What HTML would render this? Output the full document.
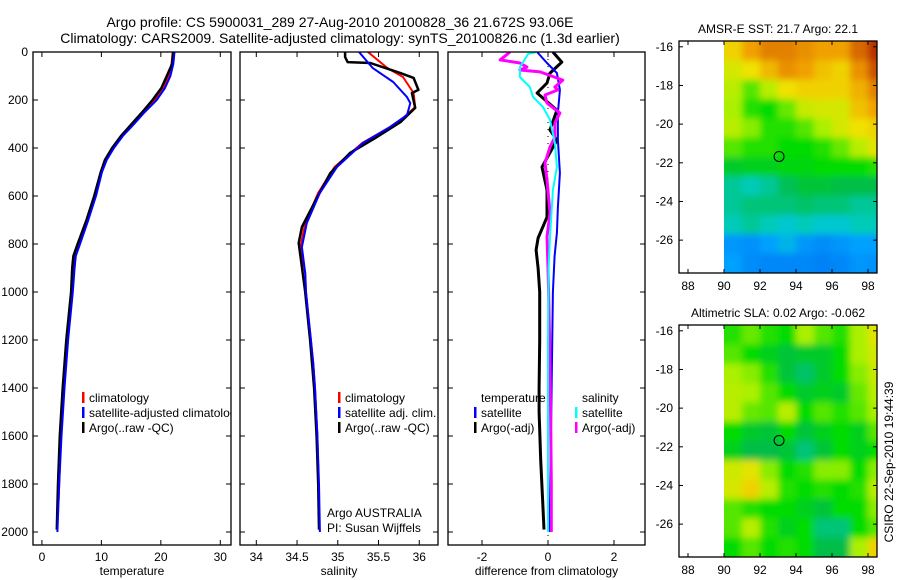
<!DOCTYPE html>
<html><head><meta charset="utf-8"><style>
body{margin:0;background:#fff;}
svg{display:block;font-family:"Liberation Sans",sans-serif;}
</style></head><body>
<svg id="s" width="900" height="580" viewBox="0 0 900 580">
<defs><filter id="blur" x="-10%" y="-10%" width="120%" height="120%"><feGaussianBlur stdDeviation="3.5"/></filter></defs>
<text x="340" y="27" font-size="14" text-anchor="middle">Argo profile: CS 5900031_289 27-Aug-2010 20100828_36 21.672S 93.06E</text>
<text x="340" y="43" font-size="14" text-anchor="middle">Climatology: CARS2009. Satellite-adjusted climatology: synTS_20100826.nc (1.3d earlier)</text>
<text transform="translate(893,462) rotate(-90)" font-size="12" text-anchor="middle">CSIRO 22-Sep-2010 19:44:39</text>
</svg>
<script>
// ---------- data ----------
const depthTicks=[0,200,400,600,800,1000,1200,1400,1600,1800,2000];
const tempTicks=[0,10,20,30];
const salTicks=[34,34.5,35,35.5,36];
const diffTicks=[-2,0,2];
const tClimD=[0,50,100,150,200,250,300,350,400,450,500,600,700,800,850,900,1000,1200,1400,1600,1870];
const tClimV=[22.0,21.8,21.3,20.5,19.0,17.1,15.3,13.5,12.0,10.8,10.0,9.0,7.7,6.3,5.6,5.4,5.1,4.3,3.7,3.2,2.8];
const tSatD=[0,50,100,150,200,250,300,350,400,450,500,600,700,800,850,900,1000,1200,1400,1600,1800,2000];
const tSatV=[22.3,22.1,21.6,20.7,19.3,17.3,15.5,13.6,12.1,10.9,10.1,9.1,7.8,6.4,5.7,5.5,5.2,4.4,3.8,3.3,2.9,2.6];
const tArgoD=[0,50,100,150,200,250,300,350,400,450,500,600,700,800,850,900,1000,1200,1400,1600,1800,1990];
const tArgoV=[22.1,21.9,21.0,20.1,18.6,16.9,15.1,13.3,11.8,10.6,9.9,8.8,7.5,6.0,5.3,5.1,4.9,4.1,3.5,3.0,2.7,2.5];
const sClimD=[0,67,104,171,229,275,313,379,479,587,713,813,921,1000,1100,1200,1300,1400,1600,1870];
const sClimV=[35.37,35.61,35.80,35.93,35.95,35.80,35.64,35.30,34.96,34.76,34.60,34.54,34.60,34.61,34.64,34.67,34.70,34.72,34.75,34.77];
const sSatD=[0,67,125,188,213,263,313,379,479,587,713,813,921,1000,1100,1200,1300,1400,1600,1800,2000];
const sSatV=[35.26,35.43,35.68,35.85,35.89,35.85,35.64,35.31,34.99,34.78,34.62,34.56,34.60,34.61,34.64,34.67,34.70,34.72,34.75,34.77,34.78];
const sArgoD=[0,21,42,46,88,108,158,171,233,292,354,421,504,604,729,796,896,1000,1200,1400,1600,1800,1990];
const sArgoV=[35.09,35.09,35.12,35.40,35.77,35.93,35.99,35.91,35.95,35.77,35.48,35.15,34.91,34.75,34.56,34.52,34.56,34.60,34.66,34.71,34.74,34.76,34.77];
const dTSatD=[0,46,88,158,254,367,504,646,754,850,1000,1500,2000];
const dTSatV=[-0.33,-0.03,0.27,0.36,0.30,0.30,0.36,0.30,0.27,0.2,0.15,0.1,0.05];
const dTArgoD=[0,42,88,129,171,242,325,367,479,575,688,775,825,900,1000,1200,1400,1500,1700,1900,1990];
const dTArgoV=[0.15,0.42,0.06,-0.03,-0.33,0.27,0.06,0.27,-0.18,-0.03,-0.03,-0.30,-0.36,-0.3,-0.25,-0.25,-0.27,-0.27,-0.22,-0.15,-0.12];
const dSArgoD=[0,33,46,63,75,83,117,146,158,179,213,254,296,354,396,463,533,671,771,900,1000,1200,1500,1800,2000];
const dSArgoV=[-1.15,-1.45,-0.85,-0.64,-0.85,-0.24,0.45,0.21,0.30,-0.09,-0.03,0.36,0.21,0.21,0.06,-0.09,-0.03,0.06,-0.03,0.0,0.02,0.05,0.08,0.10,0.10];
const dSSatD=[0,8,63,104,146,188,229,283,379,479,575,771,900,1200,1600,2000];
const dSSatV=[-0.33,-0.6,-0.85,-0.85,-0.55,-0.45,-0.15,0.06,0.21,0.27,0.15,0.06,0.02,0.0,0.0,0.0];
const lonTicks=[88,90,92,94,96,98];
const latTicks=[-16,-18,-20,-22,-24,-26];
const gridLons=[90,91,92,93,94,95,96,97,98];
const gridLats=[-15.7,-16.7,-17.7,-18.7,-19.7,-20.7,-21.7,-22.7,-23.7,-24.7,-25.7,-26.7];
const sstGrid=[
[0.72,0.78,0.82,0.82,0.80,0.78,0.78,0.85,0.92],
[0.66,0.70,0.75,0.80,0.78,0.74,0.72,0.80,0.88],
[0.62,0.55,0.62,0.70,0.72,0.72,0.72,0.76,0.82],
[0.60,0.52,0.50,0.56,0.64,0.66,0.66,0.74,0.78],
[0.62,0.58,0.52,0.52,0.55,0.60,0.66,0.70,0.72],
[0.55,0.52,0.52,0.50,0.50,0.52,0.56,0.62,0.68],
[0.47,0.48,0.48,0.49,0.49,0.50,0.50,0.50,0.52],
[0.40,0.38,0.40,0.44,0.46,0.46,0.45,0.45,0.45],
[0.40,0.42,0.42,0.42,0.43,0.42,0.42,0.40,0.40],
[0.38,0.40,0.38,0.36,0.38,0.36,0.36,0.38,0.38],
[0.28,0.27,0.30,0.33,0.28,0.26,0.28,0.30,0.30],
[0.30,0.26,0.25,0.25,0.25,0.24,0.25,0.28,0.27]];
const slaGrid=[
[0.52,0.56,0.52,0.50,0.60,0.55,0.52,0.60,0.68],
[0.55,0.50,0.48,0.46,0.47,0.47,0.50,0.60,0.66],
[0.60,0.58,0.52,0.46,0.43,0.47,0.50,0.58,0.64],
[0.62,0.60,0.55,0.50,0.47,0.48,0.47,0.56,0.62],
[0.62,0.56,0.55,0.62,0.50,0.55,0.52,0.55,0.60],
[0.50,0.47,0.46,0.50,0.46,0.48,0.50,0.48,0.55],
[0.48,0.45,0.45,0.46,0.42,0.46,0.50,0.48,0.50],
[0.65,0.68,0.58,0.50,0.52,0.58,0.58,0.50,0.58],
[0.66,0.72,0.62,0.52,0.50,0.52,0.50,0.52,0.62],
[0.55,0.52,0.50,0.50,0.48,0.46,0.50,0.50,0.58],
[0.55,0.62,0.52,0.48,0.50,0.42,0.42,0.50,0.55],
[0.50,0.55,0.50,0.52,0.50,0.45,0.45,0.60,0.72]];
const argoLon=93.06, argoLat=-21.672;

// ---------- drawing ----------
const NS="http://www.w3.org/2000/svg";
const svg=document.getElementById('s');
function mk(tag,attrs,parent){const e=document.createElementNS(NS,tag);for(const k in attrs)e.setAttribute(k,attrs[k]);(parent||svg).appendChild(e);return e;}
const PT=52,PB=545;
const yDepth=d=>PT+d*0.24;
const panels=[
 {x0:33,x1:231,min:-1.5,max:31.8,ticks:tempTicks,label:'temperature',name:'temperature-panel'},
 {x0:240,x1:438,min:33.8,max:36.23,ticks:salTicks,label:'salinity',name:'salinity-panel'},
 {x0:448,x1:645,min:-3.03,max:2.94,ticks:diffTicks,label:'difference from climatology',name:'difference-panel'}];
panels.forEach((p,i)=>{
 p.sx=v=>p.x0+(v-p.min)/(p.max-p.min)*(p.x1-p.x0);
 const g=mk('g',{});
 
 
 p.g=g;
 const cp=mk('clipPath',{id:'cp'+i},g);mk('rect',{x:p.x0,y:PT,width:p.x1-p.x0,height:PB-PT},cp);
 p.plot=mk('g',{'clip-path':'url(#cp'+i+')'},g);
 p.ticks.forEach(t=>{const x=p.sx(t);
  mk('line',{x1:x,x2:x,y1:PT,y2:PT+5,stroke:'#000'},g);mk('line',{x1:x,x2:x,y1:PB,y2:PB-5,stroke:'#000'},g);
  const tx=mk('text',{x:x,y:PB+16,'font-size':12,'text-anchor':'middle'},g);tx.textContent=t;
  
  });
 depthTicks.forEach(d=>{const y=yDepth(d);
  mk('line',{x1:p.x0,x2:p.x0+5,y1:y,y2:y,stroke:'#000'},g);mk('line',{x1:p.x1,x2:p.x1-5,y1:y,y2:y,stroke:'#000'},g);
  if(i===0){const tx=mk('text',{x:28,y:y+4,'font-size':12,'text-anchor':'end'},g);tx.textContent=d;
   
   }});
 const xl=mk('text',{x:(p.x0+p.x1)/2,y:575,'font-size':12,'text-anchor':'middle'},g);xl.textContent=p.label;
 
 
});
function line(p,D,V,color,w,name){
 const pts=D.map((d,k)=>p.sx(V[k]).toFixed(1)+','+yDepth(d).toFixed(1)).join(' ');
 const pl=mk('polyline',{points:pts,fill:'none',stroke:color,'stroke-width':w,'stroke-linejoin':'round'},p.plot);
 
 
}
const [P1,P2,P3]=panels;
line(P1,tClimD,tClimV,'#f00',2,'temp-climatology-line');
line(P1,tArgoD,tArgoV,'#000',2.5,'temp-argo-line');
line(P1,tSatD,tSatV,'#00f',2,'temp-satellite-line');
line(P2,sClimD,sClimV,'#f00',2,'sal-climatology-line');
line(P2,sArgoD,sArgoV,'#000',2.5,'sal-argo-line');
line(P2,sSatD,sSatV,'#00f',2,'sal-satellite-line');
mk('line',{x1:P3.sx(0),x2:P3.sx(0),y1:PT,y2:PB,stroke:'#000','stroke-width':1,'stroke-dasharray':'1 6'},P3.plot);
line(P3,dTArgoD,dTArgoV,'#000',3,'diff-temp-argo-line');
line(P3,dTSatD,dTSatV,'#00f',2,'diff-temp-satellite-line');
line(P3,dSArgoD,dSArgoV,'#f0f',3,'diff-sal-argo-line');
line(P3,dSSatD,dSSatV,'#0ff',2,'diff-sal-satellite-line');
panels.forEach(p=>mk('rect',{x:p.x0,y:PT,width:p.x1-p.x0,height:PB-PT,fill:'none',stroke:'#000','stroke-width':1.3},p.g));
// legends
function leg(p,x,y,color,label,name){
 const g=mk('g',{},p.plot);
 
 
 if(color)mk('rect',{x:x,y:y-10,width:2.5,height:11,fill:color},g);
 const t=mk('text',{x:x+7,y:y,'font-size':12},g);t.textContent=label;
}
leg(P1,82,402,'#f00','climatology','legend-climatology');
leg(P1,82,417,'#00f','satellite-adjusted climatology','legend-satellite');
leg(P1,82,432,'#000','Argo(..raw -QC)','legend-argo');
leg(P2,338,402,'#f00','climatology','legend-climatology');
leg(P2,338,417,'#00f','satellite adj. clim.','legend-satellite');
leg(P2,338,432,'#000','Argo(..raw -QC)','legend-argo');
leg(P2,320,517,null,'Argo AUSTRALIA','legend-institution');
leg(P2,320,532,null,'PI: Susan Wijffels','legend-pi');
leg(P3,474,402,null,'temperature','legend-temperature-head');
leg(P3,474,417,'#00f','satellite','legend-temp-satellite');
leg(P3,474,432,'#000','Argo(-adj)','legend-temp-argo');
leg(P3,575,402,null,'salinity','legend-salinity-head');
leg(P3,575,417,'#0ff','satellite','legend-sal-satellite');
leg(P3,575,432,'#f0f','Argo(-adj)','legend-sal-argo');

// maps
const cmapStops=[[0.2,[0,110,240]],[0.3,[0,160,255]],[0.37,[0,205,200]],[0.45,[0,190,70]],[0.5,[0,220,0]],[0.6,[170,240,0]],[0.7,[240,225,0]],[0.78,[240,160,0]],[0.85,[215,105,0]],[0.95,[170,20,0]]];
function cmap(v){
 if(v<=cmapStops[0][0])return 'rgb('+cmapStops[0][1]+')';
 for(let k=1;k<cmapStops.length;k++){if(v<=cmapStops[k][0]){const a=cmapStops[k-1],b=cmapStops[k],f=(v-a[0])/(b[0]-a[0]);
  return 'rgb('+a[1].map((c,j)=>Math.round(c+(b[1][j]-c)*f)).join(',')+')';}}
 return 'rgb('+cmapStops[cmapStops.length-1][1]+')';
}
let mapId=0;
function drawMap(top,grid,title,name){
 const x0=679,x1=877,y0=top,y1=top+232,lonMin=87.5,lonMax=98.5,latMax=-15.7,latMin=-27.7;
 const sx=l=>x0+(l-lonMin)/(lonMax-lonMin)*(x1-x0);
 const sy=l=>y0+(latMax-l)/(latMax-latMin)*(y1-y0);
 const g=mk('g',{});
 
 
 const id='mc'+(mapId++);
 const cp=mk('clipPath',{id:id},g);mk('rect',{x:sx(90),y:y0,width:x1-sx(90),height:y1-y0},cp);
 const clipG=mk('g',{'clip-path':'url(#'+id+')'},g);
 const cells=mk('g',{filter:'url(#blur)'},clipG);
 const nr=grid.length,nc=grid[0].length,E=12;
 grid.forEach((row,r)=>row.forEach((v,c)=>{
  const lon=gridLons[c],lat=gridLats[r];
  let x=sx(lon),w=sx(Math.min(lon+1,lonMax))-sx(lon)+0.5,y=sy(lat),h=sy(lat-1)-sy(lat)+0.5;
  if(c===0){x-=E;w+=E;} if(c===nc-1){w+=E;} if(r===0){y-=E;h+=E;} if(r===nr-1){h+=E;}
  const cell=mk('rect',{x:x,y:y,width:w,height:h,fill:cmap(v)},cells);
  
  
 }));
 const mkr=mk('circle',{cx:sx(argoLon),cy:sy(argoLat),r:5,fill:'none',stroke:'#000','stroke-width':1},g);
 
 
 mk('rect',{x:x0,y:y0,width:x1-x0,height:y1-y0,fill:'none',stroke:'#000','stroke-width':1.3},g);
 lonTicks.forEach(l=>{const x=sx(l);
  mk('line',{x1:x,x2:x,y1:y0,y2:y0+4,stroke:'#000'},g);mk('line',{x1:x,x2:x,y1:y1,y2:y1-4,stroke:'#000'},g);
  const t=mk('text',{x:x,y:y1+17,'font-size':12,'text-anchor':'middle'},g);t.textContent=l;
  
  });
 latTicks.forEach(l=>{const y=sy(l);
  mk('line',{x1:x0,x2:x0+4,y1:y,y2:y,stroke:'#000'},g);mk('line',{x1:x1,x2:x1-4,y1:y,y2:y,stroke:'#000'},g);
  const t=mk('text',{x:673,y:y+4,'font-size':12,'text-anchor':'end'},g);t.textContent=l;
  
  });
 const tt=mk('text',{x:(x0+x1)/2,y:y0-8,'font-size':12,'text-anchor':'middle'},g);tt.textContent=title;
 
 
}
drawMap(41,sstGrid,'AMSR-E SST: 21.7 Argo: 22.1','sst-map');
drawMap(325,slaGrid,'Altimetric SLA: 0.02 Argo: -0.062','sla-map');
</script>
</body></html>
